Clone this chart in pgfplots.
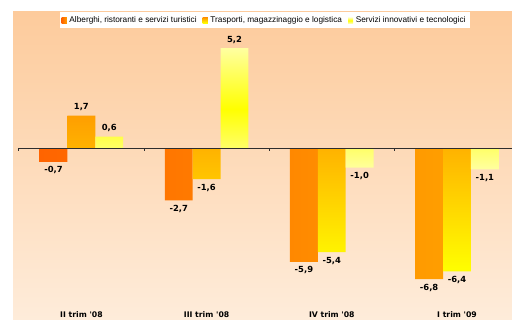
\documentclass[border=0pt]{standalone}
\usepackage{fontspec}
\setmainfont{DejaVu Sans}
\newfontfamily\legendfont{Liberation Sans}
\usepackage{pgfplots}
\usepackage{pgfplotstable}
\pgfplotsset{compat=1.18}

\definecolor{bgtop}{RGB}{253,203,156}
\definecolor{bgbot}{RGB}{254,236,218}
\definecolor{orA}{RGB}{255,100,0}
\definecolor{orB}{RGB}{255,158,0}
\definecolor{yel}{RGB}{255,255,0}
\definecolor{yelL}{RGB}{255,255,160}
\definecolor{zeroline}{RGB}{45,45,45}

% variazioni per trimestre
\pgfplotstableread{
cat s1 s2 s3
0 -0.7 1.7 0.6
1 -2.7 -1.6 5.2
2 -5.9 -5.4 -1.0
3 -6.8 -6.4 -1.1
}\datatable

\begin{document}
\begin{tikzpicture}
\shade[top color=bgtop, bottom color=bgbot] (9.75pt,0pt) rectangle (384pt,231pt);
\begin{axis}[
  at={(14.1pt,0pt)}, anchor=south west,
  scale only axis, width=375.6pt, height=231pt,
  xmin=-0.5, xmax=3.5, ymin=-8.92, ymax=7.08,
  clip=false,
  axis line style={draw=none},
  ytick=\empty,
  xtick={0,1,2,3},
  xticklabels={II trim \textquotesingle08, III trim \textquotesingle08, IV trim \textquotesingle08, I trim \textquotesingle09},
  xtick pos=left,
  major tick length=0pt,
  xticklabel style={font=\bfseries\fontsize{5.8}{7}\selectfont, anchor=center, yshift=4.2pt},
  point meta=y,
  nodes near coords={\pgfmathprintnumber[fixed,fixed zerofill,precision=1,use comma,assume math mode=true]{\pgfplotspointmeta}},
  nodes near coords align=vertical,
  every node near coord/.append style={font=\bfseries\fontsize{6.3}{7}\selectfont, text=black},
  legend columns=3,
  legend style={at={(0.4916,0.9724)}, anchor=center, fill=white, draw=none,
    font=\legendfont\fontsize{6.2}{7.5}\selectfont, inner xsep=1.5pt, inner ysep=1pt,
    /tikz/every even column/.append style={column sep=2.5pt}},
  legend image code/.code={\path[#1,draw=none] (0pt,-1.9pt) rectangle (3.8pt,1.9pt);},
]
\addplot[ybar, bar width=0.2227, bar shift=-0.2227, draw=none, left color=orA, right color=orB,
  every node near coord/.append style={xshift=-20.9pt}]
  table[x=cat, y=s1] {\datatable};
\addlegendentry{Alberghi, ristoranti e servizi turistici}
\addplot[ybar, bar width=0.2227, bar shift=0, draw=none, top color=orB, bottom color=yel]
  table[x=cat, y=s2] {\datatable};
\addlegendentry{Trasporti, magazzinaggio e logistica}
\addplot[ybar, bar width=0.2227, bar shift=0.2227, draw=none, top color=yelL, bottom color=yelL, middle color=yel,
  every node near coord/.append style={xshift=20.9pt}]
  table[x=cat, y=s3] {\datatable};
\addlegendentry{Servizi innovativi e tecnologici}
% linea dello zero con tacche tra i trimestri
\draw[zeroline, line width=0.75pt] (axis cs:-0.5,0) -- (axis cs:3.5,0);
\draw[zeroline, line width=0.6pt] (axis cs:-0.5,0) -- ++(0pt,-2.3pt);
\draw[zeroline, line width=0.6pt] (axis cs:0.5,0) -- ++(0pt,-2.3pt);
\draw[zeroline, line width=0.6pt] (axis cs:1.5,0) -- ++(0pt,-2.3pt);
\draw[zeroline, line width=0.6pt] (axis cs:2.5,0) -- ++(0pt,-2.3pt);
\end{axis}
\pgfresetboundingbox
\useasboundingbox (0pt,0pt) rectangle (384pt,240pt);
\end{tikzpicture}
\end{document}
